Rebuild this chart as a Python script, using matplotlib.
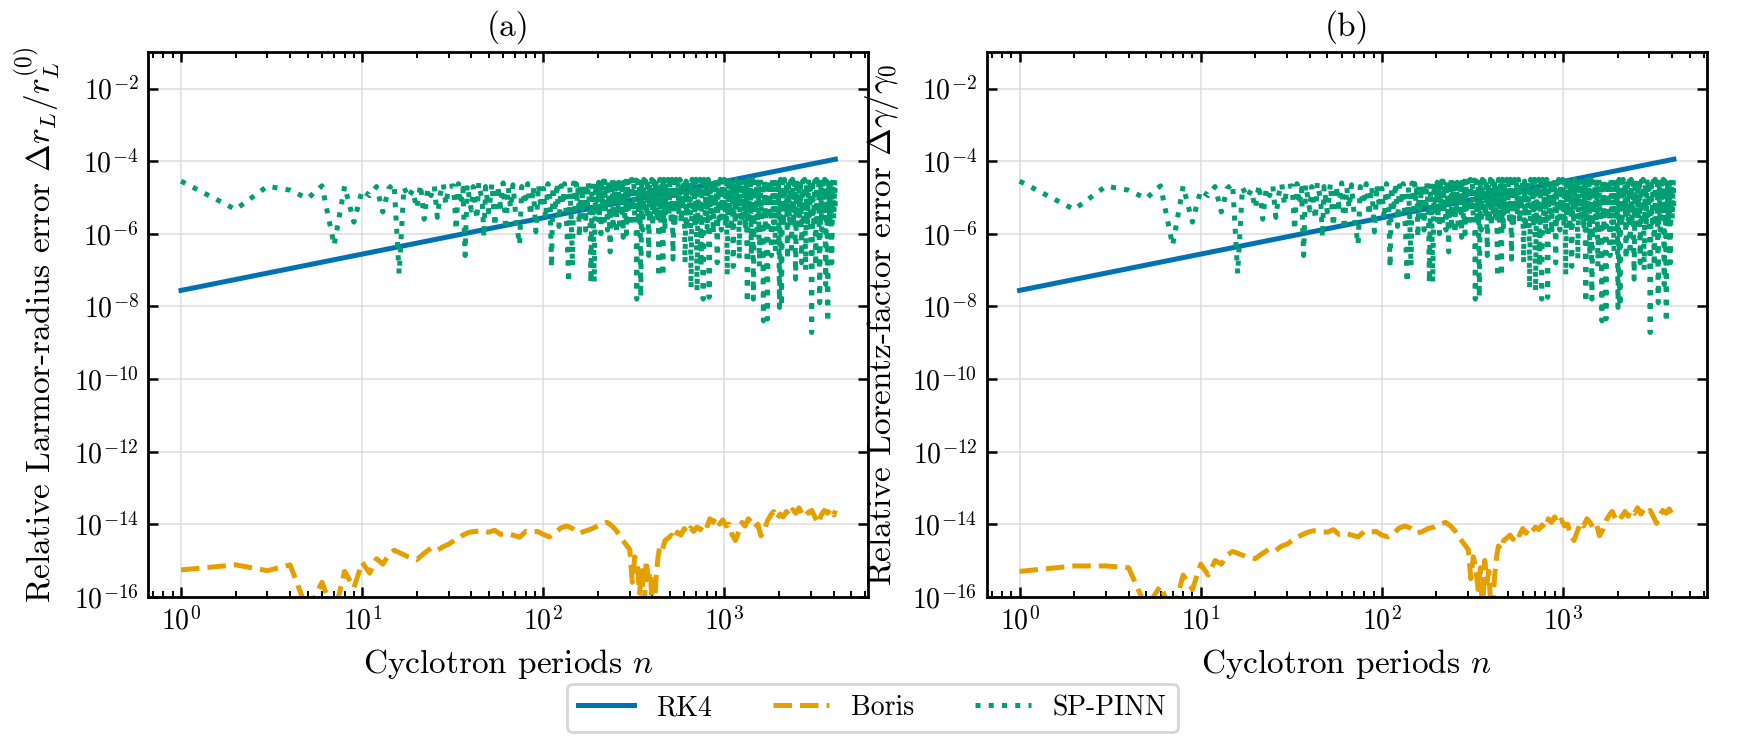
import numpy as np
import matplotlib
matplotlib.use("Agg")
from matplotlib import pyplot as plt

plt.rcParams["font.family"] = "serif"
plt.rcParams["font.serif"] = ["cmr10", "DejaVu Serif"]
plt.rcParams["mathtext.fontset"] = "cm"
plt.rcParams["axes.formatter.use_mathtext"] = True

# RK4: error grows linearly with the number of periods
rk4_n = [1, 10, 100, 1000, 4096]
rk4_err = [2.75e-8, 2.75e-7, 2.75e-6, 2.75e-5, 1.13e-4]

# Boris: (period, log10 error)
boris_head_a = [
    (1, -15.26), (2, -15.12), (3, -15.28), (4, -15.12), (5, -16.4), (6, -15.6),
    (7, -16.5), (8, -15.3), (9, -15.75), (10, -15.05), (11, -15.35), (12, -14.95),
    (13, -15.1), (14, -14.85), (15, -14.72), (16, -14.78), (18, -14.9), (20, -14.98),
    (22, -14.8), (24, -14.66), (26, -14.72), (28, -14.62), (30, -14.55), (33, -14.42),
    (36, -14.3), (39, -14.22), (42, -14.2), (46, -14.18), (50, -14.22), (54, -14.17),
    (58, -14.28), (63, -14.25), (68, -14.3), (74, -14.36), (80, -14.2), (86, -14.22),
    (93, -14.2), (100, -14.28), (108, -14.35), (116, -14.25), (125, -14.1), (135, -14.05),
    (145, -14.12), (156, -14.25), (168, -14.2), (180, -14.15), (194, -14.08), (209, -14.0),
    (225, -13.95), (240, -14.05), (255, -14.2), (270, -14.4), (285, -14.55), (300, -14.7),
    (310, -15.6), (320, -14.9), (330, -15.1), (340, -15.9), (350, -15.2), (360, -16.5),
    (370, -15.0), (380, -15.5), (390, -15.3), (400, -16.4), (410, -16.3), (420, -15.4),
    (430, -14.9), (440, -14.6),
]
boris_head_b = [
    (1, -15.3), (2, -15.15), (3, -15.15), (4, -15.2), (5, -16.3), (6, -15.7),
    (7, -16.5), (8, -15.4), (9, -15.8), (10, -15.1), (11, -15.4), (12, -15.0),
    (13, -15.1), (14, -14.85), (15, -14.75), (16, -14.8), (18, -14.9), (20, -14.95),
    (22, -14.8), (24, -14.68), (26, -14.72), (28, -14.6), (30, -14.55), (33, -14.4),
    (36, -14.3), (39, -14.22), (42, -14.18), (46, -14.2), (50, -14.22), (54, -14.15),
    (58, -14.28), (63, -14.25), (68, -14.3), (74, -14.35), (80, -14.2), (86, -14.22),
    (93, -14.2), (100, -14.3), (108, -14.35), (116, -14.25), (125, -14.1), (135, -14.05),
    (145, -14.12), (156, -14.25), (168, -14.2), (180, -14.12), (194, -14.08), (209, -14.0),
    (225, -13.95), (240, -14.05), (255, -14.2), (270, -14.4), (285, -14.55), (300, -14.7),
    (310, -15.5), (320, -14.9), (330, -15.2), (340, -15.8), (350, -15.2), (360, -16.5),
    (370, -15.0), (380, -15.6), (390, -15.3), (400, -16.4), (410, -16.2), (420, -15.4),
    (430, -14.9), (440, -14.6),
]
boris_tail = [
    (455, -14.7), (470, -14.45), (490, -14.38), (510, -14.3), (530, -14.42), (550, -14.22),
    (575, -14.3), (600, -14.12), (625, -14.25), (650, -14.1), (675, -14.2), (705, -14.08),
    (735, -14.15), (765, -14.02), (795, -14.12), (830, -13.85), (865, -13.95), (900, -13.8),
    (940, -14.0), (980, -13.88), (1020, -14.05), (1060, -14.0), (1105, -14.3), (1150, -14.45),
    (1200, -14.2), (1250, -13.95), (1300, -14.05), (1355, -13.85), (1410, -13.95), (1470, -14.1),
    (1530, -14.0), (1590, -14.32), (1660, -14.15), (1730, -13.9), (1800, -13.75), (1870, -13.65),
    (1950, -13.85), (2030, -13.72), (2110, -13.8), (2200, -13.65), (2290, -13.78), (2380, -13.6),
    (2480, -13.7), (2580, -13.55), (2690, -13.72), (2800, -13.6), (2910, -13.7), (3030, -13.62),
    (3160, -13.8), (3290, -13.98), (3420, -13.75), (3560, -13.62), (3710, -13.7), (3860, -13.58),
    (4020, -13.75), (4096, -13.62),
]

# SP-PINN: (period, log10 error)
sppinn_low = [
    (1, -4.55), (2, -5.33), (3, -4.69), (4, -4.8), (5, -5.03), (6, -4.68),
    (7, -6.32), (8, -4.69), (9, -5.68), (10, -4.8), (11, -4.95), (12, -4.7),
    (13, -5.4), (14, -4.75), (15, -4.62), (16, -7.1), (17, -4.72), (18, -5.0),
    (19, -4.8), (20, -5.3), (21, -4.65), (22, -5.6), (23, -4.75), (24, -4.95),
    (25, -4.68), (26, -5.55), (27, -4.9), (28, -4.62), (29, -5.2), (30, -4.7),
    (32, -4.68), (33, -5.9), (34, -4.62), (35, -5.2), (36, -4.75), (37, -6.6),
    (38, -4.65), (40, -5.35), (41, -4.7), (43, -5.6), (44, -4.6), (46, -5.1),
    (47, -6.1), (48, -4.7), (50, -5.4), (52, -4.62), (54, -5.8), (56, -4.68),
    (58, -5.25), (60, -4.6), (62, -5.9), (64, -4.72), (66, -5.3), (68, -4.65),
    (71, -5.7), (74, -6.3), (76, -4.7), (79, -5.2), (82, -4.62), (85, -5.5),
    (88, -4.7), (91, -5.95), (94, -4.65), (97, -5.3), (100, -4.75),
    (103, -5.6), (106, -4.62), (109, -5.1), (111, -6.93), (113, -4.7), (116, -5.4),
    (119, -4.6), (122, -5.8), (125, -4.68), (128, -5.2), (131, -4.62), (135, -5.9),
    (138, -7.35), (140, -4.7), (142, -5.3), (145, -6.89), (147, -4.6), (150, -5.5),
    (152, -4.62), (154, -5.1), (156, -4.66), (158, -6.1), (161, -4.6), (163, -5.6),
    (165, -4.7), (167, -5.35), (169, -4.6), (171, -5.9), (173, -4.65), (175, -5.2),
    (177, -4.58), (181, -5.5), (183, -7.35), (186, -4.62), (189, -5.7), (191, -7.33),
    (194, -4.6), (196, -5.1), (198, -4.55), (200, -5.4), (202, -4.58), (204, -5.7),
    (206, -4.6), (208, -6.0), (210, -4.65), (212, -5.2), (214, -4.55), (216, -5.8),
    (218, -4.55), (221, -5.4), (223, -4.6), (226, -5.9), (228, -4.55), (231, -5.3),
    (234, -6.5), (236, -4.55), (238, -5.5), (241, -4.5), (243, -5.9), (246, -4.6),
    (248, -5.2), (251, -4.55), (253, -6.0), (256, -4.5), (258, -5.5), (261, -4.58),
    (264, -5.9), (267, -4.5), (270, -5.3), (273, -4.55), (276, -6.1), (279, -4.5),
    (282, -5.6), (285, -4.55), (288, -6.0), (291, -4.5), (294, -5.4), (297, -4.55),
]
sppinn_high = [
    (300, -4.55), (304, -5.8), (308, -4.5), (312, -5.4), (316, -4.6), (320, -5.7),
    (324, -4.52), (328, -7.8), (332, -4.55), (336, -5.6), (341, -4.5), (345, -7.75),
    (350, -4.58), (354, -5.9), (359, -4.5), (363, -5.3), (368, -4.55), (373, -5.5),
    (377, -4.5), (382, -6.6), (387, -4.6), (392, -5.5), (397, -4.5), (402, -5.8),
    (408, -4.55), (413, -5.4), (418, -4.5), (424, -5.6), (429, -4.6), (435, -7.2),
    (440, -4.5), (446, -5.7), (452, -4.55), (457, -7.17), (463, -4.5), (469, -5.9),
    (475, -4.6), (481, -5.4), (488, -4.5), (494, -5.5), (500, -4.55), (507, -5.6),
    (513, -4.5), (520, -6.7), (527, -4.58), (533, -5.8), (540, -4.5), (547, -5.4),
    (554, -4.55), (561, -5.5), (568, -4.5), (576, -5.7), (583, -4.6), (591, -5.3),
    (598, -4.5), (606, -6.8), (614, -4.55), (622, -5.9), (630, -4.5), (638, -5.5),
    (646, -4.58), (654, -7.5), (663, -4.5), (671, -5.6), (680, -4.55), (689, -5.8),
    (697, -4.5), (706, -7.58), (715, -4.6), (725, -5.4), (734, -4.5), (743, -6.9),
    (753, -4.55), (763, -7.8), (772, -4.5), (782, -5.5), (792, -4.52), (803, -5.9),
    (813, -4.5), (823, -7.75), (834, -4.55), (845, -5.4), (856, -4.5), (867, -6.0),
    (878, -4.58), (889, -5.3), (900, -4.5), (912, -6.8), (924, -4.55), (935, -5.6),
    (947, -4.5), (960, -5.9), (972, -4.6), (984, -5.4), (997, -4.5), (1010, -5.8),
    (1023, -4.55), (1036, -7.14), (1049, -4.5), (1063, -5.5), (1076, -4.55), (1090, -5.9),
    (1104, -4.5), (1118, -6.9), (1133, -4.58), (1147, -5.6), (1162, -4.5), (1177, -5.3),
    (1192, -4.55), (1208, -6.7), (1223, -4.5), (1239, -5.7), (1255, -4.6), (1271, -5.5),
    (1287, -4.5), (1304, -5.9), (1320, -4.55), (1337, -7.9), (1355, -4.5), (1372, -5.6),
    (1390, -4.55), (1408, -6.6), (1426, -4.5), (1444, -7.8), (1463, -4.58), (1481, -5.5),
    (1500, -4.5), (1520, -5.9), (1539, -4.55), (1559, -6.9), (1579, -4.5), (1599, -5.6),
    (1620, -4.6), (1641, -8.4), (1662, -4.5), (1683, -5.8), (1705, -4.55), (1727, -8.35),
    (1749, -4.5), (1771, -5.4), (1794, -4.55), (1817, -6.6), (1841, -4.5), (1864, -5.7),
    (1888, -4.6), (1913, -6.5), (1937, -4.5), (1962, -5.6), (1987, -4.55), (2013, -8.03),
    (2039, -4.5), (2065, -8.0), (2092, -4.55), (2118, -5.8), (2146, -4.5), (2173, -5.4),
    (2201, -4.58), (2230, -6.7), (2258, -4.5), (2287, -5.7), (2317, -4.55), (2347, -6.4),
    (2377, -4.5), (2407, -5.6), (2438, -4.6), (2470, -7.25), (2501, -4.5), (2534, -5.9),
    (2566, -4.55), (2599, -5.5), (2633, -4.5), (2666, -6.8), (2701, -4.55), (2735, -5.6),
    (2771, -4.5), (2806, -7.0), (2842, -4.6), (2879, -5.8), (2916, -4.5), (2953, -5.5),
    (2991, -4.55), (3030, -8.72), (3069, -4.5), (3108, -5.7), (3148, -4.55), (3189, -6.9),
    (3230, -4.5), (3271, -5.6), (3313, -4.58), (3356, -7.9), (3399, -4.5), (3443, -5.9),
    (3487, -4.55), (3532, -5.5), (3577, -4.5), (3623, -7.4), (3670, -4.55), (3717, -8.44),
    (3765, -4.5), (3813, -5.7), (3862, -4.55), (3912, -6.8), (3962, -4.5), (4013, -5.6),
    (4065, -4.52), (4096, -5.4),
]

c_rk4 = "#0072B2"
c_boris = "#E69F00"
c_pinn = "#009E73"

fig, axes = plt.subplots(1, 2, figsize=(8.725, 3.73), dpi=200)
fig.subplots_adjust(left=0.085, right=0.978, bottom=0.2, top=0.93, wspace=0.165)

ylabels = [r"Relative Larmor-radius error $\Delta r_L/r_L^{(0)}$",
           r"Relative Lorentz-factor error $\Delta\gamma/\gamma_0$"]
titles = ["(a)", "(b)"]
boris_sets = [boris_head_a + boris_tail, boris_head_b + boris_tail]
pn, pl = np.array(sppinn_low + sppinn_high).T

for i, ax in enumerate(axes):
    bn, bl = np.array(boris_sets[i]).T
    ax.loglog(rk4_n, rk4_err, color=c_rk4, lw=1.8, ls="-", label="RK4")
    ax.loglog(bn, 10.0 ** bl, color=c_boris, lw=1.8, ls="--", label="Boris")
    ax.loglog(pn, 10.0 ** pl, color=c_pinn, lw=1.8, ls=":", label="SP-PINN")
    ax.set_ylim(1e-16, 1e-1)
    ax.set_yticks([1e-16, 1e-14, 1e-12, 1e-10, 1e-8, 1e-6, 1e-4, 1e-2])
    ax.yaxis.set_minor_locator(matplotlib.ticker.NullLocator())
    ax.set_xlabel(r"Cyclotron periods $n$", fontsize=12)
    ax.set_ylabel(ylabels[i], fontsize=12)
    ax.set_title(titles[i], fontsize=12)
    ax.grid(True, which="major", color="0.85", lw=0.6, alpha=0.8)
    ax.tick_params(which="both", direction="in", top=True, right=True, labelsize=10)
    ax.tick_params(which="major", length=3.5, width=0.9)
    ax.tick_params(which="minor", length=2, width=0.7)
    for s in ax.spines.values():
        s.set_linewidth(1.0)

h, l = axes[0].get_legend_handles_labels()
fig.legend(h, l, loc="lower center", ncol=3, bbox_to_anchor=(0.5, 0.0),
           fontsize=10, columnspacing=2.2, handlelength=2.0)

fig.savefig("out.png", dpi=200)
